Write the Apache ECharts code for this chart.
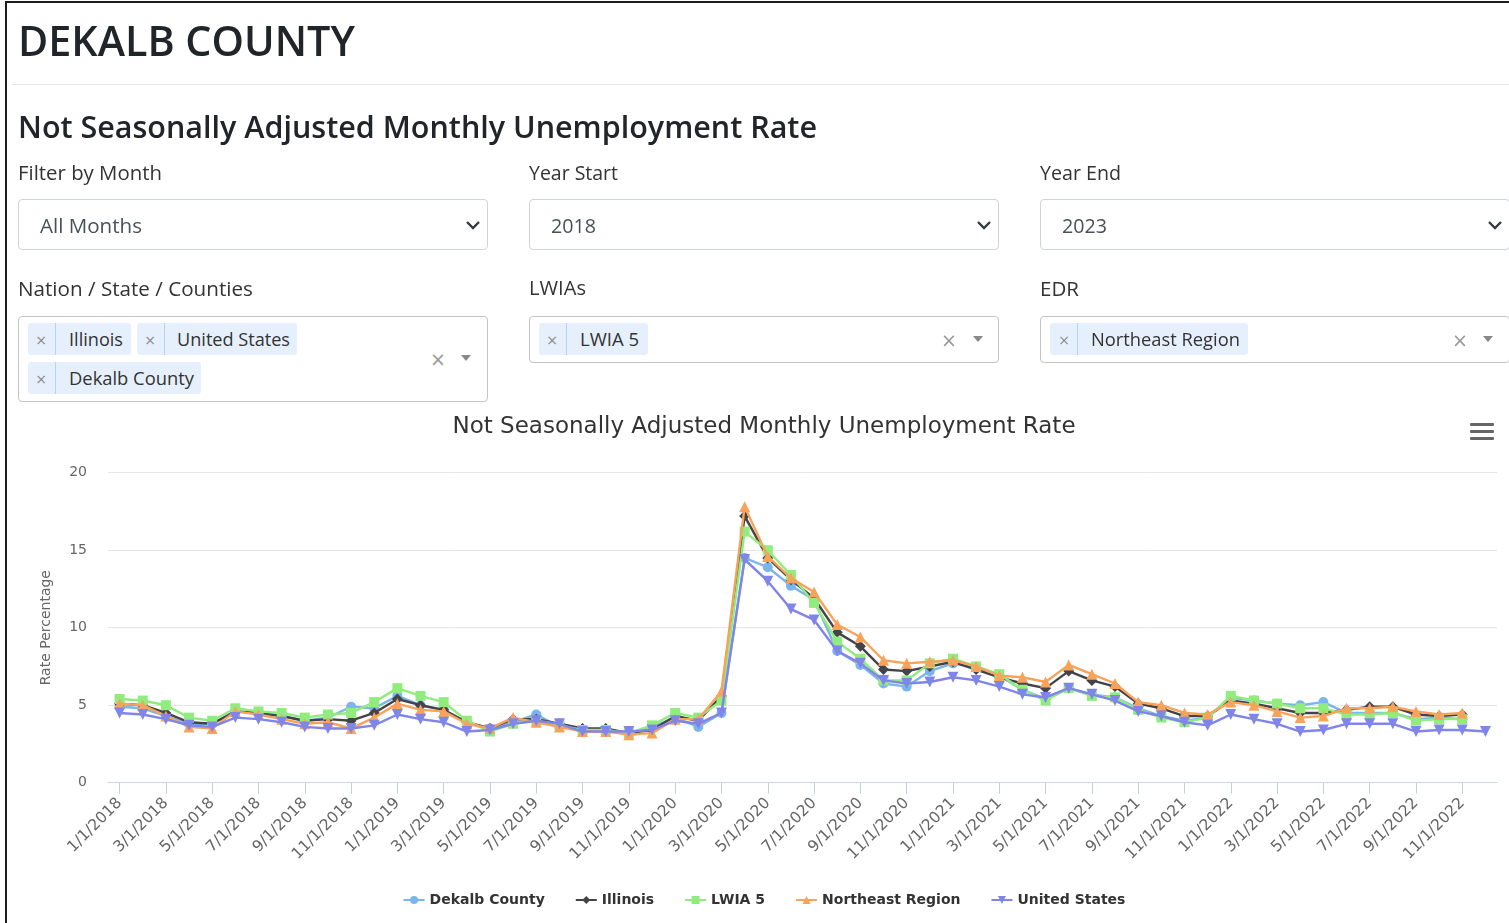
<!DOCTYPE html>
<html>
<head>
<meta charset="utf-8">
<title>DeKalb County – Unemployment Rate</title>
<script src="https://cdn.jsdelivr.net/npm/echarts@6/dist/echarts.min.js"></script>
<style>
  html, body { margin: 0; padding: 0; background: #fff; width: 1509px; height: 923px; overflow: hidden; }
  body { position: relative; font-family: "Open Sans", "Noto Sans", sans-serif; color: #212529; }
  #frame { position: absolute; left: 5px; top: 1px; width: 1600px; height: 1000px;
           border-left: 2px solid #1c1c1c; border-top: 2px solid #1c1c1c; box-sizing: border-box; }
  #rule { position: absolute; left: 12px; top: 84px; width: 1497px; height: 1px; background: #e3e3e3; }
  #chart { position: absolute; left: 19px; top: 0; width: 1490px; height: 923px; z-index: 0; }
  .t { position: absolute; white-space: nowrap; line-height: normal; z-index: 2; }
  .box { position: absolute; box-sizing: border-box; border: 1px solid #ced4da; border-radius: 4px; background: #fff; z-index: 1; }
  .box.s2 { border-color: #c4c4c4; }
  .tag { position: absolute; background: #e6f0fc; border-radius: 3px; z-index: 1; }
  .tag .div { position: absolute; top: 0; width: 1px; height: 100%; background: #b9d2ef; }
  .x { position: absolute; transform: translate(-50%, -52%); line-height: 1; color: #8a8a8a; z-index: 2; font-family: "DejaVu Sans", sans-serif; }
  .arrow { position: absolute; width: 0; height: 0; border-left: 5px solid transparent; border-right: 5px solid transparent;
           border-top: 6px solid #888; transform: translate(-50%, -50%); z-index: 2; }
  svg.chev { position: absolute; z-index: 2; overflow: visible; }
</style>
</head>
<body>
<div id="frame"></div>
<div id="chart"></div>
<div id="rule"></div>

<!-- page heading -->
<span class="t" data-x="18" data-b="56" data-w="337" style="font-weight:600;color:#212529">DEKALB COUNTY</span>
<span class="t" data-x="18" data-b="138" data-w="799" style="font-weight:600;color:#212529">Not Seasonally Adjusted Monthly Unemployment Rate</span>

<!-- filter row 1 -->
<span class="t" data-x="18" data-b="180" data-w="144" style="color:#333">Filter by Month</span>
<span class="t" data-x="529" data-b="180" data-w="89" style="color:#333">Year Start</span>
<span class="t" data-x="1040" data-b="180" data-w="81" style="color:#333">Year End</span>

<div class="box" style="left:18px;top:199px;width:470px;height:51px"></div>
<div class="box" style="left:529px;top:199px;width:470px;height:51px"></div>
<div class="box" style="left:1040px;top:199px;width:470px;height:51px"></div>
<span class="t" data-x="40" data-b="233" data-w="102" style="color:#495057">All Months</span>
<span class="t" data-x="551" data-b="233" data-w="45" style="color:#495057">2018</span>
<span class="t" data-x="1062" data-b="233" data-w="45" style="color:#495057">2023</span>
<svg class="chev" style="left:473px;top:225px" width="1" height="1"><path d="M-6,-3 L0,3 L6,-3" fill="none" stroke="#343a40" stroke-width="2.4"/></svg>
<svg class="chev" style="left:984px;top:225px" width="1" height="1"><path d="M-6,-3 L0,3 L6,-3" fill="none" stroke="#343a40" stroke-width="2.4"/></svg>
<svg class="chev" style="left:1495px;top:225px" width="1" height="1"><path d="M-6,-3 L0,3 L6,-3" fill="none" stroke="#343a40" stroke-width="2.4"/></svg>

<!-- filter row 2 -->
<span class="t" data-x="18" data-b="296" data-w="235" style="color:#333">Nation / State / Counties</span>
<span class="t" data-x="529" data-b="296" data-w="57" style="color:#333">LWIAs</span>
<span class="t" data-x="1040" data-b="296" data-w="39" style="color:#333">EDR</span>

<div class="box s2" style="left:18px;top:316px;width:470px;height:86px"></div>
<div class="box s2" style="left:529px;top:316px;width:470px;height:47px"></div>
<div class="box s2" style="left:1040px;top:316px;width:470px;height:47px"></div>

<div class="tag" style="left:28px;top:323px;width:103px;height:32px"><div class="div" style="left:27px"></div></div>
<div class="tag" style="left:137px;top:323px;width:160px;height:32px"><div class="div" style="left:27px"></div></div>
<div class="tag" style="left:28px;top:362px;width:173px;height:32px"><div class="div" style="left:27px"></div></div>
<div class="tag" style="left:539px;top:323px;width:109px;height:32px"><div class="div" style="left:27px"></div></div>
<div class="tag" style="left:1050px;top:323px;width:198px;height:32px"><div class="div" style="left:27px"></div></div>

<span class="x" style="left:41px;top:340px;font-size:14px">×</span>
<span class="x" style="left:150px;top:340px;font-size:14px">×</span>
<span class="x" style="left:41px;top:379px;font-size:14px">×</span>
<span class="x" style="left:552px;top:340px;font-size:14px">×</span>
<span class="x" style="left:1064px;top:340px;font-size:14px">×</span>

<span class="t" data-x="69" data-b="346" data-w="54" style="color:#333">Illinois</span>
<span class="t" data-x="177" data-b="346" data-w="113" style="color:#333">United States</span>
<span class="t" data-x="69" data-b="385" data-w="125" style="color:#333">Dekalb County</span>
<span class="t" data-x="580" data-b="346" data-w="59" style="color:#333">LWIA 5</span>
<span class="t" data-x="1091" data-b="346" data-w="149" style="color:#333">Northeast Region</span>

<span class="x" style="left:438px;top:360px;font-size:19px;color:#999">×</span>
<span class="arrow" style="left:466px;top:358px"></span>
<span class="x" style="left:949px;top:341px;font-size:19px;color:#999">×</span>
<span class="arrow" style="left:978px;top:339px"></span>
<span class="x" style="left:1460px;top:341px;font-size:19px;color:#999">×</span>
<span class="arrow" style="left:1488px;top:339px"></span>

<script>
// Size each caption so it spans its column width, then sit it on its baseline.
document.querySelectorAll('.t').forEach(function (el) {
  var x = +el.dataset.x, b = +el.dataset.b, w = +el.dataset.w;
  el.style.fontSize = '100px';
  var m = el.getBoundingClientRect().width;
  var fs = 100 * w / m;
  el.style.fontSize = fs + 'px';
  el.style.left = x + 'px';
  el.style.top = (b - 1.069 * fs) + 'px';
});

// Monthly periods, January 2018 – December 2022
const categories = [
  '1/1/2018','2/1/2018','3/1/2018','4/1/2018','5/1/2018','6/1/2018','7/1/2018','8/1/2018','9/1/2018','10/1/2018','11/1/2018','12/1/2018',
  '1/1/2019','2/1/2019','3/1/2019','4/1/2019','5/1/2019','6/1/2019','7/1/2019','8/1/2019','9/1/2019','10/1/2019','11/1/2019','12/1/2019',
  '1/1/2020','2/1/2020','3/1/2020','4/1/2020','5/1/2020','6/1/2020','7/1/2020','8/1/2020','9/1/2020','10/1/2020','11/1/2020','12/1/2020',
  '1/1/2021','2/1/2021','3/1/2021','4/1/2021','5/1/2021','6/1/2021','7/1/2021','8/1/2021','9/1/2021','10/1/2021','11/1/2021','12/1/2021',
  '1/1/2022','2/1/2022','3/1/2022','4/1/2022','5/1/2022','6/1/2022','7/1/2022','8/1/2022','9/1/2022','10/1/2022','11/1/2022','12/1/2022'
];

// Unemployment rate, percent (not seasonally adjusted)
const dekalbCounty = [
  4.9, 4.8, 4.3, 3.8, 3.8, 4.6, 4.5, 4.3, 4.0, 4.2, 4.9, 4.8,
  5.6, 5.0, 4.7, 3.9, 3.5, 3.9, 4.4, 3.6, 3.4, 3.4, 3.2, 3.6,
  4.2, 3.6, 4.5, 14.5, 13.9, 12.7, 11.8, 8.5, 7.6, 6.4, 6.2, 7.2,
  7.7, 7.4, 6.9, 6.0, 5.4, 6.1, 5.7, 5.5, 4.8, 4.3, 4.0, 4.2,
  5.5, 5.3, 5.1, 5.0, 5.2, 4.5, 4.5, 4.5, 4.1, 4.2, 4.1
];
const illinois = [
  5.1, 5.0, 4.5, 3.9, 3.8, 4.6, 4.5, 4.3, 4.0, 4.1, 4.0, 4.5,
  5.4, 5.0, 4.7, 3.9, 3.5, 4.1, 4.1, 3.8, 3.5, 3.5, 3.2, 3.4,
  4.3, 4.0, 5.6, 17.2, 14.5, 13.1, 11.9, 9.7, 8.8, 7.3, 7.2, 7.5,
  7.8, 7.3, 6.8, 6.4, 6.1, 7.2, 6.6, 6.2, 5.1, 4.8, 4.3, 4.3,
  5.3, 5.1, 4.8, 4.5, 4.5, 4.7, 4.9, 4.9, 4.4, 4.3, 4.4
];
const lwia5 = [
  5.4, 5.3, 5.0, 4.2, 4.0, 4.8, 4.6, 4.5, 4.2, 4.4, 4.5, 5.2,
  6.1, 5.6, 5.2, 4.0, 3.3, 3.8, 4.0, 3.7, 3.4, 3.4, 3.2, 3.7,
  4.5, 4.2, 5.3, 16.2, 15.0, 13.4, 11.6, 9.1, 8.0, 6.6, 6.6, 7.7,
  8.0, 7.5, 7.0, 6.0, 5.3, 6.1, 5.6, 5.5, 4.7, 4.2, 3.9, 4.2,
  5.6, 5.3, 5.1, 4.8, 4.8, 4.4, 4.4, 4.5, 4.0, 4.1, 4.1
];
const northeastRegion = [
  5.1, 5.0, 4.3, 3.6, 3.5, 4.6, 4.4, 4.1, 3.8, 3.9, 3.5, 4.2,
  5.1, 4.7, 4.6, 3.8, 3.5, 4.2, 3.9, 3.6, 3.3, 3.3, 3.1, 3.2,
  4.1, 4.1, 5.9, 17.8, 14.6, 13.2, 12.3, 10.2, 9.4, 7.9, 7.7, 7.8,
  7.9, 7.5, 6.9, 6.8, 6.5, 7.6, 7.0, 6.4, 5.2, 5.0, 4.5, 4.4,
  5.2, 5.0, 4.6, 4.2, 4.3, 4.8, 4.8, 4.9, 4.6, 4.4, 4.5
];
const unitedStates = [
  4.5, 4.4, 4.1, 3.7, 3.6, 4.2, 4.1, 3.9, 3.6, 3.5, 3.5, 3.7,
  4.4, 4.1, 3.9, 3.3, 3.4, 3.8, 4.0, 3.8, 3.3, 3.3, 3.3, 3.4,
  4.0, 3.8, 4.5, 14.4, 13.0, 11.2, 10.5, 8.5, 7.7, 6.6, 6.4, 6.5,
  6.8, 6.6, 6.2, 5.7, 5.5, 6.1, 5.7, 5.3, 4.6, 4.3, 3.9, 3.7,
  4.4, 4.1, 3.8, 3.3, 3.4, 3.8, 3.8, 3.8, 3.3, 3.4, 3.4, 3.3
];

// Value axis ticks
const yMin = 0, yMax = 20, yStep = 5;

const seriesDefs = [
  { name: 'Dekalb County',    data: dekalbCounty,    color: '#7cb5ec', symbol: 'circle',   size: 10, rotate: 0 },
  { name: 'Illinois',         data: illinois,        color: '#434348', symbol: 'diamond',  size: 11, rotate: 0 },
  { name: 'LWIA 5',           data: lwia5,           color: '#90ed7d', symbol: 'rect',     size: 10, rotate: 0 },
  { name: 'Northeast Region', data: northeastRegion, color: '#f7a35c', symbol: 'triangle', size: 11, rotate: 0 },
  { name: 'United States',    data: unitedStates,    color: '#8085e9', symbol: 'triangle', size: 11, rotate: 180 }
];

const labelFont = '"DejaVu Sans", Verdana, sans-serif';
const chart = echarts.init(document.getElementById('chart'), null, { renderer: 'canvas' });

chart.setOption({
  animation: false,
  color: seriesDefs.map(s => s.color),
  title: {
    text: 'Not Seasonally Adjusted Monthly Unemployment Rate',
    left: 'center',
    top: 416,
    padding: 0,
    textStyle: { fontFamily: labelFont, fontSize: 23, fontWeight: 'normal', color: '#333333' }
  },
  legend: {
    data: seriesDefs.map(s => s.name),
    left: 'center',
    top: 893,
    padding: 0,
    itemGap: 30,
    itemWidth: 21,
    itemHeight: 10,
    textStyle: { fontFamily: labelFont, fontSize: 14, fontWeight: 'bold', color: '#333333' }
  },
  grid: { left: 89, right: 12, top: 472.7, bottom: 140.3, containLabel: false, outerBoundsMode: 'none' },
  xAxis: {
    type: 'category',
    data: categories,
    boundaryGap: true,
    axisLine: { lineStyle: { color: '#ccd6eb', width: 1 } },
    axisTick: { show: true, alignWithLabel: true, interval: 1, length: 11, lineStyle: { color: '#c4cde6', width: 1 } },
    axisLabel: { interval: 1, rotate: 45, margin: 18, color: '#666666', fontSize: 15.5, fontFamily: labelFont },
    splitLine: { show: false }
  },
  yAxis: {
    type: 'value',
    min: yMin,
    max: yMax,
    interval: yStep,
    name: 'Rate Percentage',
    nameLocation: 'middle',
    nameGap: 55,
    nameTextStyle: { color: '#666666', fontSize: 14, fontFamily: labelFont },
    axisLine: { show: false },
    axisTick: { show: false },
    axisLabel: { color: '#666666', fontSize: 14, margin: 21, fontFamily: labelFont },
    splitLine: { lineStyle: { color: '#e6e6e6', width: 1 } }
  },
  graphic: [{
    type: 'group',
    left: 1451,
    top: 423,
    children: [0, 7, 14].map(dy => ({
      type: 'rect',
      shape: { x: 0, y: dy, width: 24, height: 3, r: 1 },
      style: { fill: '#666666' }
    }))
  }],
  series: seriesDefs.map((s, i) => ({
    name: s.name,
    type: 'line',
    data: s.data,
    z: 2 + i,
    symbol: s.symbol,
    symbolSize: s.size,
    symbolRotate: s.rotate,
    showSymbol: true,
    showAllSymbol: true,
    lineStyle: { color: s.color, width: 2.4 },
    itemStyle: { color: s.color, borderWidth: 0 },
    emphasis: { disabled: true }
  }))
});
</script>
</body>
</html>
